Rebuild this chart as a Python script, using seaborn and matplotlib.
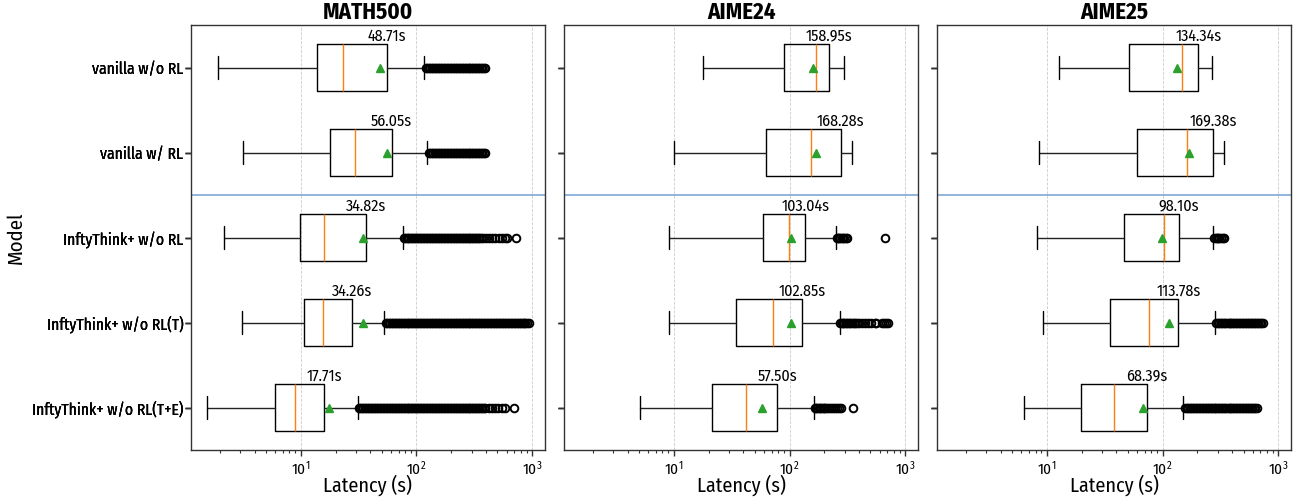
import numpy as np
import matplotlib
matplotlib.use("Agg")
import matplotlib.pyplot as plt
from matplotlib import font_manager
import seaborn as sns

# ---------------- data ----------------
models = ["vanilla w/o RL", "vanilla w/ RL", "InftyThink+ w/o RL",
          "InftyThink+ w/o RL(T)", "InftyThink+ w/o RL(T+E)"]
benchmarks = ["MATH500", "AIME24", "AIME25"]

math_whislo = [1.92, 3.16, 2.19, 3.1, 1.54]
math_q1 = [13.7, 17.8, 9.8, 10.7, 6.05]
math_med = [23.0, 29.6, 16.0, 15.7, 9.0]
math_q3 = [55.7, 61.0, 36.7, 27.5, 16.0]
math_whishi = [117, 124, 76.5, 52, 31]
math_mean = [48.71, 56.05, 34.82, 34.26, 17.71]
math_fliers = [
    [120, 124, 128, 131, 135, 139, 144, 148, 152, 157, 162, 167, 172, 177, 182,
     188, 193, 199, 205, 211, 218, 224, 231, 238, 245, 252, 260, 268, 276, 284,
     292, 301, 310, 320, 329, 339, 349, 360, 371, 382, 393],
    [128, 131, 135, 139, 144, 148, 152, 157, 162, 167, 172, 177, 182, 188, 193,
     199, 205, 211, 218, 224, 231, 238, 245, 252, 260, 268, 276, 284, 292, 301,
     310, 320, 329, 339, 349, 360, 371, 382, 393],
    [77.3, 79.6, 82.0, 84.4, 87.0, 89.6, 92.3, 95.0, 97.9, 100.8, 103.8, 107,
     110, 113, 117, 120, 124, 128, 131, 135, 139, 144, 148, 152, 157, 162, 167,
     172, 177, 182, 188, 193, 199, 205, 211, 218, 224, 231, 238, 245, 252, 260,
     268, 276, 284, 292, 301, 310, 320, 329, 339, 349, 360, 375, 395, 420, 450,
     480, 515, 550, 585, 600, 727],
    [54.2, 55.8, 57.5, 59.2, 61.0, 62.8, 64.7, 66.6, 68.6, 70.7, 72.8, 75.0,
     77.3, 79.6, 82.0, 84.4, 87.0, 89.6, 92.3, 95.0, 97.9, 100.8, 103.8, 107,
     110, 113, 117, 120, 124, 128, 131, 135, 139, 144, 148, 152, 157, 162, 167,
     172, 177, 182, 188, 193, 199, 205, 211, 218, 224, 231, 238, 245, 252, 260,
     268, 276, 284, 292, 301, 310, 320, 329, 339, 349, 360, 371, 382, 393, 405,
     417, 430, 443, 456, 470, 484, 498, 513, 529, 544, 561, 577, 595, 612, 631,
     650, 669, 689, 710, 731, 753, 776, 799, 823, 848, 873, 900, 927],
    [31.8, 32.8, 33.8, 34.8, 35.8, 36.9, 38.0, 39.1, 40.3, 41.5, 42.8, 44.1,
     45.4, 46.7, 48.1, 49.6, 51.1, 52.6, 54.2, 55.8, 57.5, 59.2, 61.0, 62.8,
     64.7, 66.6, 68.6, 70.7, 72.8, 75.0, 77.3, 79.6, 82.0, 84.4, 87.0, 89.6,
     92.3, 95.0, 97.9, 100.8, 103.8, 107, 110, 113, 117, 120, 124, 128, 131,
     135, 139, 144, 148, 152, 157, 162, 167, 172, 177, 182, 188, 193, 199, 205,
     211, 218, 224, 231, 238, 245, 252, 260, 268, 276, 284, 292, 301, 310, 320,
     329, 339, 349, 360, 371, 382, 393, 420, 450, 480, 510, 545, 580, 690],
]

aime24_whislo = [17.8, 10.0, 9.1, 9.1, 5.1]
aime24_q1 = [89, 62.4, 59.2, 34.2, 21.2]
aime24_med = [170.6, 154.5, 99, 72.1, 41.7]
aime24_q3 = [218, 276, 137, 128, 78]
aime24_whishi = [295, 345, 251, 270, 161.5]
aime24_mean = [158.95, 168.28, 103.04, 102.85, 57.50]
aime24_fliers = [
    [],
    [],
    [256, 262, 268, 275, 282, 290, 298, 306, 315, 661],
    [275, 282, 290, 298, 306, 315, 325, 335, 345, 357, 370, 385, 400, 425, 450,
     480, 510, 545, 560, 630, 655, 680, 705],
    [166, 170, 174, 178, 183, 188, 193, 198, 204, 210, 218, 226, 235, 245, 255,
     268, 280, 352],
]

aime25_whislo = [12.8, 8.5, 8.25, 9.2, 6.37]
aime25_q1 = [51, 59.8, 46.6, 35.4, 19.6]
aime25_med = [147, 163.7, 102, 76.4, 38.4]
aime25_q3 = [203, 275, 138, 137, 73]
aime25_whishi = [269, 342, 275, 284, 151]
aime25_mean = [134.34, 169.38, 98.10, 113.78, 68.39]
aime25_fliers = [
    [],
    [],
    [280, 287, 294, 301, 310, 320, 330, 340],
    [292, 301, 310, 320, 329, 339, 349, 360, 371, 382, 393, 405, 417, 430, 443,
     456, 470, 484, 498, 513, 529, 544, 561, 577, 595, 612, 631, 650, 669, 689,
     710, 731],
    [157, 162, 167, 172, 177, 182, 188, 193, 199, 205, 211, 218, 224, 231, 238,
     245, 252, 260, 268, 276, 284, 292, 301, 310, 320, 329, 339, 349, 360, 371,
     382, 393, 405, 417, 430, 443, 456, 470, 484, 498, 513, 529, 544, 561, 577,
     595, 612, 631, 650],
]

# ---------------- style ----------------
sns.set_theme(style="ticks")

available = {f.name for f in font_manager.fontManager.ttflist}
FONT, scale = "DejaVu Sans", 0.8
for cand, sc in [("Fira Sans Condensed", 1.0), ("Liberation Sans Narrow", 1.0),
                 ("Roboto Condensed", 1.0), ("DejaVu Sans Condensed", 0.85),
                 ("Roboto", 0.85)]:
    if cand in available:
        FONT, scale = cand, sc
        break

plt.rcParams.update({
    "font.family": [FONT, "DejaVu Sans"],
    "mathtext.fontset": "custom",
    "mathtext.rm": FONT,
    "mathtext.it": FONT,
    "mathtext.bf": FONT,
    "text.color": "black",
    "axes.labelcolor": "black",
    "axes.titlecolor": "black",
    "axes.edgecolor": "#333333",
    "axes.linewidth": 1.0,
    "xtick.color": "#333333",
    "ytick.color": "#333333",
    "xtick.labelcolor": "black",
    "ytick.labelcolor": "black",
    "xtick.major.size": 4.5,
    "xtick.minor.size": 2.5,
    "ytick.major.size": 4.0,
    "xtick.major.width": 1.0,
    "ytick.major.width": 1.0,
    "xtick.minor.width": 0.8,
})

data = {
    "MATH500": (math_whislo, math_q1, math_med, math_q3, math_whishi, math_mean, math_fliers),
    "AIME24": (aime24_whislo, aime24_q1, aime24_med, aime24_q3, aime24_whishi, aime24_mean, aime24_fliers),
    "AIME25": (aime25_whislo, aime25_q1, aime25_med, aime25_q3, aime25_whishi, aime25_mean, aime25_fliers),
}

fig, axes = plt.subplots(1, 3, figsize=(12.94, 5.0), dpi=100, sharex=True, sharey=True)
fig.subplots_adjust(left=0.1476, right=0.9977, top=0.95, bottom=0.10, wspace=0.054)

positions = np.arange(1, len(models) + 1)
WIDTH = 0.55

for k, (ax, bench) in enumerate(zip(axes, benchmarks)):
    wlo, q1, med, q3, whi, mean, fl = data[bench]
    stats = []
    for i in range(len(models)):
        stats.append(dict(label=models[i], whislo=wlo[i], q1=q1[i], med=med[i],
                          q3=q3[i], whishi=whi[i], mean=mean[i],
                          fliers=np.array(fl[i], dtype=float)))
    ax.bxp(stats, positions=positions, widths=WIDTH, orientation="horizontal",
           showmeans=True, showfliers=True,
           boxprops=dict(color="black", linewidth=1.0),
           whiskerprops=dict(color="#222222", linewidth=1.0),
           capprops=dict(color="black", linewidth=1.0),
           medianprops=dict(color="#ff7f0e", linewidth=1.0),
           meanprops=dict(marker="^", markerfacecolor="#2ca02c",
                          markeredgecolor="#2ca02c", markersize=6),
           flierprops=dict(marker="o", markerfacecolor="none",
                           markeredgecolor="black", markersize=5.5,
                           markeredgewidth=1.4))
    for i in range(len(models)):
        ax.text(q3[i], positions[i] - WIDTH / 2, f"{mean[i]:.2f}s",
                ha="center", va="bottom", fontsize=11.5 * scale, color="black")
    ax.axhline(2.5, color="#7fa8d4", linewidth=1.2, zorder=1)
    ax.set_xscale("log")
    ax.set_xlim(1.13, 1285)
    ax.set_ylim(len(models) + 0.5, 0.5)
    ax.grid(True, axis="x", which="major", linestyle="--", linewidth=0.6,
            color="#cccccc")
    ax.grid(False, axis="y")
    ax.set_axisbelow(True)
    ax.set_title(bench, fontsize=16.5 * scale, fontweight="bold", pad=4)
    ax.set_xlabel("Latency (s)", fontsize=14.5 * scale, labelpad=-2)
    ax.tick_params(axis="x", labelsize=11 * scale, pad=2)
    ax.tick_params(axis="y", labelsize=11.25 * scale, pad=1.5)
    for s in ["top", "right", "left", "bottom"]:
        ax.spines[s].set_visible(True)
    if k == 0:
        ax.set_ylabel("Model", fontsize=15 * scale, labelpad=4)
    else:
        ax.tick_params(axis="y", labelleft=False)

fig.savefig("out.png", dpi=100)
